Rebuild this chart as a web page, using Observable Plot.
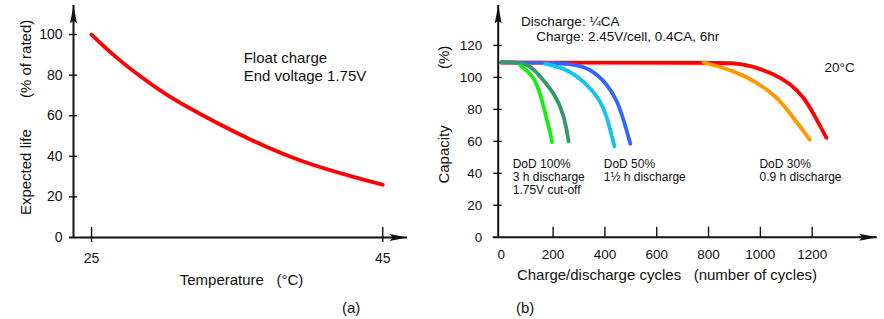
<!DOCTYPE html>
<html><head><meta charset="utf-8">
<script src="https://cdn.jsdelivr.net/npm/d3@7"></script>
<script src="https://cdn.jsdelivr.net/npm/@observablehq/plot@0.6"></script>
<style>
body{margin:0;background:#fff;}
#wrap{position:relative;width:884px;height:319px;background:#fff;font-family:"Liberation Sans",Arial,sans-serif;color:#111;overflow:hidden;}
#a{position:absolute;left:0;top:0;}
#b{position:absolute;left:430px;top:0;}
.cap{position:absolute;font-size:15px;line-height:17px;}
</style></head><body>
<div id="wrap"><div id="a"></div><div id="b"></div>
<div class="cap" style="left:342px;top:299px">(a)</div>
<div class="cap" style="left:516px;top:299px">(b)</div></div>
<script>
// ---- Panel (a) data ----
const temps = [25, 26.5, 28.4, 30, 32.4, 36, 39.5, 43, 45];
const life = [100, 89.7, 79, 70.8, 60.9, 47.6, 37, 29.8, 26];
const lifeTicks = [0, 20, 40, 60, 80, 100];
const tempTicks = [25, 45];

// ---- Panel (b) data ----
const cycleTicks = [0, 200, 400, 600, 800, 1000, 1200];
const capTicks = [0, 20, 40, 60, 80, 100, 120];
const redCycles = [0, 400, 800, 896, 962, 1052, 1116, 1168, 1206, 1255];
const redCap = [109.2, 109.2, 109.2, 109.1, 107.5, 102.3, 96, 87.6, 77.2, 62.2];
const orangeCycles = [781, 897, 988, 1065, 1116, 1155, 1191];
const orangeCap = [109.4, 104.3, 97, 87.6, 77.2, 68.9, 61];
const blueCycles = [0, 150, 280, 344, 408, 447, 473, 498];
const blueCap = [109.4, 109.4, 108.5, 105.4, 96, 85.6, 73, 58.5];
const skyCycles = [170, 254, 331, 383, 408, 424, 437];
const skyCap = [108.5, 105.4, 96, 85.6, 75.1, 64.7, 56.8];
const dkGreenCycles = [0, 40, 80, 112, 164, 209, 241, 260];
const dkGreenCap = [109.6, 109.6, 108.8, 107.5, 98, 88.7, 77.2, 60];
const greenCycles = [74, 100, 125, 151, 170, 190, 196];
const greenCap = [107.5, 104, 100.2, 89.8, 77.2, 64.7, 59.5];

const FONT = '"Liberation Sans", Arial, sans-serif';
const INK = "#111";

const arrowUp = {draw(ctx) { ctx.moveTo(0, 0); ctx.lineTo(3.5, 18); ctx.lineTo(0, 15); ctx.lineTo(-3.5, 18); ctx.closePath(); }};
const arrowRight = {draw(ctx) { ctx.moveTo(0, 0); ctx.lineTo(-18, -3.5); ctx.lineTo(-15, 0); ctx.lineTo(-18, 3.5); ctx.closePath(); }};

const zip = (xs, ys) => xs.map((x, i) => ({x, y: ys[i]}));

// ---------- Panel (a) ----------
const xA = [23.76, 46.7], yA = [0, 114.3];
const plotA = Plot.plot({
  width: 430, height: 300,
  marginLeft: 73, marginRight: 23, marginTop: 5, marginBottom: 63,
  x: {domain: xA, axis: null},
  y: {domain: yA, axis: null},
  style: {fontFamily: FONT, overflow: "visible", background: "white", color: INK},
  marks: [
    Plot.line(zip(temps, life), {x: "x", y: "y", stroke: "#ff0000", strokeWidth: 3.8, curve: "basis"}),
    Plot.ruleX([xA[0]], {y1: 0, y2: yA[1], stroke: INK, strokeWidth: 2}),
    Plot.ruleY([0], {x1: xA[0], x2: xA[1], insetLeft: -4, stroke: INK, strokeWidth: 2}),
    Plot.ruleY(lifeTicks.filter(d => d > 0), {y: d => d, x1: xA[0], x2: xA[0], insetLeft: -4, insetRight: -4, stroke: INK, strokeWidth: 1.4}),
    Plot.ruleX(tempTicks, {x: d => d, y1: 0, y2: 0, insetTop: -10, insetBottom: -5, stroke: INK, strokeWidth: 1.4}),
    Plot.dot([0], {x: () => xA[0], y: () => yA[1], symbol: arrowUp, fill: INK, stroke: "none"}),
    Plot.dot([0], {x: () => xA[1], y: () => 0, symbol: arrowRight, fill: INK, stroke: "none"}),
    Plot.text(lifeTicks, {x: xA[0], y: d => d, text: d => `${d}`, textAnchor: "end", dx: -11, fontSize: 14, fill: INK}),
    Plot.text(tempTicks, {x: d => d, y: 0, text: d => `${d}`, dy: 21, fontSize: 14, fill: INK}),
    Plot.text(["Temperature\u00a0\u00a0\u00a0(°C)"], {x: 35.3, y: 0, text: d => d, dy: 43, fontSize: 15, fill: INK}),
    Plot.text(["(% of rated)"], {x: xA[0], y: 88, text: d => d, rotate: -90, dx: -47.3, fontSize: 15, fill: INK}),
    Plot.text(["Expected life"], {x: xA[0], y: 32.2, text: d => d, rotate: -90, dx: -47.3, fontSize: 15, fill: INK}),
    Plot.text(["Float charge\nEnd voltage 1.75V"], {x: 35.45, y: 84.5, text: d => d, textAnchor: "start", lineHeight: 1.2, fontSize: 15, fill: INK})
  ]
});
document.getElementById("a").append(plotA);

// ---------- Panel (b) ----------
const xB = [-12, 1451], yB = [0, 145];
const series = [
  {c: redCycles, v: redCap, color: "#ff0000"},
  {c: orangeCycles, v: orangeCap, color: "#ff9900"},
  {c: blueCycles, v: blueCap, color: "#3366ff"},
  {c: skyCycles, v: skyCap, color: "#11c4ee"},
  {c: dkGreenCycles, v: dkGreenCap, color: "#339966"},
  {c: greenCycles, v: greenCap, color: "#11ee11"}
];
const plotB = Plot.plot({
  width: 454, height: 300,
  marginLeft: 67.7, marginRight: 7.3, marginTop: 5, marginBottom: 63.3,
  x: {domain: xB, axis: null},
  y: {domain: yB, axis: null},
  style: {fontFamily: FONT, overflow: "visible", background: "white", color: INK},
  marks: [
    ...series.map(s => Plot.line(zip(s.c, s.v), {x: "x", y: "y", stroke: s.color, strokeWidth: 3.8, curve: "basis"})),
    Plot.ruleX([xB[0]], {y1: 0, y2: yB[1], stroke: INK, strokeWidth: 2}),
    Plot.ruleY([0], {x1: xB[0], x2: xB[1], insetLeft: -5, stroke: INK, strokeWidth: 2}),
    Plot.ruleY(capTicks.filter(d => d > 0), {y: d => d, x1: xB[0], x2: xB[0], insetLeft: -4.4, insetRight: -4, stroke: INK, strokeWidth: 1.4}),
    Plot.ruleX(cycleTicks.filter(d => d > 0), {x: d => d, y1: 0, y2: 0, insetTop: -10, stroke: INK, strokeWidth: 1.4}),
    Plot.dot([0], {x: () => xB[0], y: () => yB[1], symbol: arrowUp, fill: INK, stroke: "none"}),
    Plot.dot([0], {x: () => xB[1], y: () => 0, symbol: arrowRight, fill: INK, stroke: "none"}),
    Plot.text(capTicks, {x: xB[0], y: d => d, text: d => `${d}`, textAnchor: "end", dx: -16, fontSize: 13.5, fill: INK}),
    Plot.text(cycleTicks, {x: d => d, y: 0, text: d => `${d}`, dy: 17.6, fontSize: 13.5, fill: INK}),
    Plot.text(["Charge/discharge cycles\u00a0\u00a0\u00a0(number of cycles)"], {x: 639.4, y: 0, text: d => d, dy: 38.3, fontSize: 15, fill: INK}),
    Plot.text(["(%)"], {x: xB[0], y: 112.5, text: d => d, rotate: -90, dx: -54.2, fontSize: 15, fill: INK}),
    Plot.text(["Capacity"], {x: xB[0], y: 51.8, text: d => d, rotate: -90, dx: -54.2, fontSize: 15, fill: INK}),
    Plot.text(["Discharge: ¼CA"], {x: 76.4, y: 134.6, text: d => d, textAnchor: "start", fontSize: 13.5, fill: INK}),
    Plot.text(["Charge: 2.45V/cell, 0.4CA, 6hr"], {x: 134.4, y: 125.6, text: d => d, textAnchor: "start", fontSize: 13.5, fill: INK}),
    Plot.text(["20°C"], {x: 1247.5, y: 105.8, text: d => d, textAnchor: "start", fontSize: 13.5, fill: INK}),
    Plot.text(["DoD 100%\n3 h discharge\n1.75V cut-off"], {x: 44, y: 37.9, text: d => d, textAnchor: "start", lineHeight: 1.083, fontSize: 12, fill: INK}),
    Plot.text(["DoD 50%\n1½ h discharge"], {x: 395.4, y: 42.1, text: d => d, textAnchor: "start", lineHeight: 1.083, fontSize: 12, fill: INK}),
    Plot.text(["DoD 30%\n0.9 h discharge"], {x: 996.5, y: 42.1, text: d => d, textAnchor: "start", lineHeight: 1.083, fontSize: 12, fill: INK})
  ]
});
document.getElementById("b").append(plotB);
</script>
</body></html>
